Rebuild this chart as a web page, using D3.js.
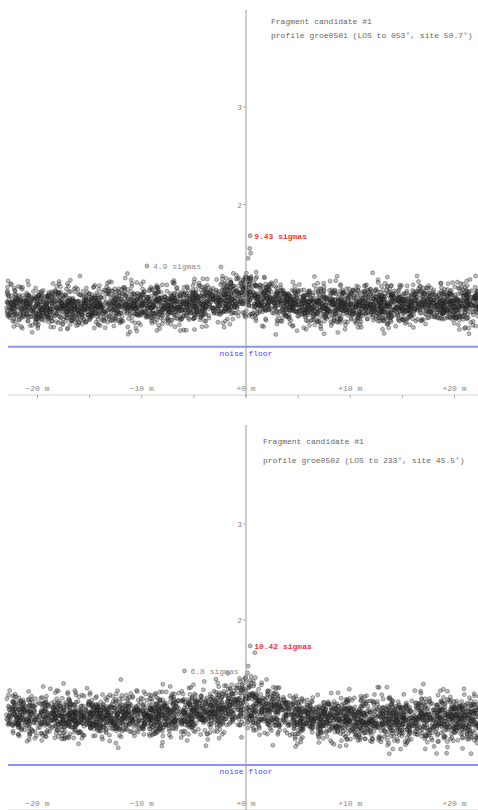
<!DOCTYPE html>
<html>
<head>
<meta charset="utf-8">
<script src="https://cdn.jsdelivr.net/npm/d3@7"></script>
<style>
html,body{margin:0;padding:0;background:#fff;}
svg{display:block;}
text{font-family:"Liberation Mono","DejaVu Sans Mono",monospace;}
</style>
</head>
<body>
<svg id="chart" width="478" height="810"></svg>
<script>
// ---------------- data ----------------
const xTicks = [-20, -10, 0, 10, 20];
const xTickLabels = ["\u221220 m", "\u221210 m", "+0 m", "+10 m", "+20 m"];
const xMinorTicks = [-20, -15, -10, -5, 0, 5, 10, 15, 20];
const yTicks = [2, 3];
const yTickLabels = ["2", "3"];

// band profile (offset in m -> mean signal and spread) estimated per panel
const profileOffsets   = [-23, -18, -13, -8, -5, -3, -1.5, 0, 1.5, 3, 5, 8, 13, 18, 23];
const topBandMean      = [0.95, 0.96, 0.96, 0.97, 0.98, 1.00, 1.04, 1.07, 1.03, 0.99, 0.98, 0.97, 0.97, 0.98, 0.97];
const topBandSpread    = [0.10, 0.10, 0.10, 0.10, 0.10, 0.10, 0.11, 0.12, 0.11, 0.10, 0.10, 0.10, 0.10, 0.10, 0.10];
const bottomBandMean   = [1.00, 1.00, 1.00, 1.01, 1.03, 1.06, 1.10, 1.13, 1.08, 1.03, 1.00, 0.98, 0.97, 0.97, 0.97];
const bottomBandSpread = [0.11, 0.11, 0.11, 0.11, 0.11, 0.115, 0.12, 0.13, 0.12, 0.115, 0.11, 0.11, 0.11, 0.11, 0.11];

// isolated high points
const topPeakX    = [0.4, 0.35, 0.45, -9.5, -2.4, 0.2];
const topPeakV    = [1.68, 1.55, 1.50, 1.37, 1.36, 1.45];
const bottomPeakX = [0.4, 0.85, -5.9, 0.2, 0.15, 0.9, -12.0, -4.0];
const bottomPeakV = [1.73, 1.66, 1.47, 1.52, 1.45, 1.40, 1.38, 1.36];

const noiseFloor = [0.54, 0.49];
const titles = [
  ["Fragment candidate #1", "profile groe0501 (LOS to 053\u00b0, site 50.7\u00b0)"],
  ["Fragment candidate #1", "profile groe0502 (LOS to 233\u00b0, site 45.5\u00b0)"]
];
const peakLabels = ["9.43 sigmas", "10.42 sigmas"];
const secondLabels = ["4.9 sigmas", "6.8 sigmas"];
const secondLabelAt = [[-9.5, 1.37], [-5.9, 1.47]];
const pointsPerPanel = 3400;

// ---------------- layout ----------------
const panels = [
  {axisTop: 10, y2: 204.5, y3: 107, xAxisY: 395, titleX: 271, titleY: [24, 38],
   mean: topBandMean, spread: topBandSpread, px: topPeakX, pv: topPeakV, shift: 0.0},
  {axisTop: 425, y2: 620, y3: 524, xAxisY: 810, titleX: 263, titleY: [444, 463],
   mean: bottomBandMean, spread: bottomBandSpread, px: bottomPeakX, pv: bottomPeakV, shift: 0.37}
];
const FS = 8;

const svg = d3.select("#chart");
const defs = svg.append("defs");
defs.append("filter").attr("id", "soft").attr("x", "-5%").attr("y", "-20%").attr("width", "110%").attr("height", "140%")
  .append("feGaussianBlur").attr("stdDeviation", 0.45);

const x = d3.scaleLinear().domain([-20, 20]).range([37.5, 454.5]);

function interp(arr, m) {
  const i = d3.bisectRight(profileOffsets, m);
  if (i <= 0) return arr[0];
  if (i >= profileOffsets.length) return arr[arr.length - 1];
  const t = (m - profileOffsets[i - 1]) / (profileOffsets[i] - profileOffsets[i - 1]);
  return arr[i - 1] + t * (arr[i] - arr[i - 1]);
}
// inverse normal CDF (Acklam)
function invNorm(p) {
  const a=[-39.6968302866538,220.946098424521,-275.928510446969,138.357751867269,-30.6647980661472,2.50662827745924];
  const b=[-54.4760987982241,161.585836858041,-155.698979859887,66.8013118877197,-13.2806815528857];
  const c=[-0.00778489400243029,-0.322396458041136,-2.40075827716184,-2.54973253934373,4.37466414146497,2.93816398269878];
  const d=[0.00778469570904146,0.32246712907004,2.445134137143,3.75440866190742];
  const pl=0.02425;
  if (p<pl){const q=Math.sqrt(-2*Math.log(p));return (((((c[0]*q+c[1])*q+c[2])*q+c[3])*q+c[4])*q+c[5])/((((d[0]*q+d[1])*q+d[2])*q+d[3])*q+1);}
  if (p>1-pl){const q=Math.sqrt(-2*Math.log(1-p));return -(((((c[0]*q+c[1])*q+c[2])*q+c[3])*q+c[4])*q+c[5])/((((d[0]*q+d[1])*q+d[2])*q+d[3])*q+1);}
  const q=p-0.5, r=q*q;
  return (((((a[0]*r+a[1])*r+a[2])*r+a[3])*r+a[4])*r+a[5])*q/(((((b[0]*r+b[1])*r+b[2])*r+b[3])*r+b[4])*r+1);
}
function frac(v){return v - Math.floor(v);}
// deterministic spread of points inside the read band
function scramble(i, s){ return frac(Math.sin(i * 12.9898 + s * 78.233) * 43758.5453); }

panels.forEach((P, pi) => {
  const g = svg.append("g");
  const y = d3.scaleLinear().domain([2, 3]).range([P.y2, P.y3]);

  // x axis line and ticks
  g.append("line").attr("x1", 8).attr("x2", 478).attr("y1", P.xAxisY).attr("y2", P.xAxisY)
    .attr("stroke", "#d4d4d4").attr("stroke-width", 1);
  g.selectAll(".mt").data(xMinorTicks).enter().append("line")
    .attr("x1", d => x(d)).attr("x2", d => x(d))
    .attr("y1", P.xAxisY).attr("y2", P.xAxisY + 3)
    .attr("stroke", "#aaa").attr("stroke-width", 1);
  g.selectAll(".xl").data(xTicks).enter().append("text")
    .attr("x", d => x(d)).attr("y", P.xAxisY - 4)
    .attr("text-anchor", "middle").attr("font-size", FS).attr("fill", "#888")
    .text((d, i) => xTickLabels[i]);

  // noise floor
  const nf = y(noiseFloor[pi]);
  g.append("line").attr("x1", 8).attr("x2", 478).attr("y1", nf).attr("y2", nf)
    .attr("stroke", "#8f8fff").attr("stroke-width", 2);
  g.append("text").attr("x", x(0)).attr("y", nf + 9).attr("text-anchor", "middle")
    .attr("font-size", FS).attr("fill", "#4a4aff").text("noise floor");

  // cloud of points
  const pts = [];
  for (let i = 0; i < pointsPerPanel; i++) {
    const u = scramble(i + 1, 1 + P.shift);
    const w = Math.min(0.9995, Math.max(0.0005, scramble(i + 1, 2.71 + P.shift)));
    const m = -23 + 46 * u;
    const v = interp(P.mean, m) + invNorm(w) * interp(P.spread, m);
    pts.push([m, v]);
  }
  P.px.forEach((m, i) => pts.push([m, P.pv[i]]));
  g.append("g").attr("filter", "url(#soft)")
    .selectAll(".pt").data(pts).enter().append("circle")
    .attr("cx", d => x(d[0])).attr("cy", d => y(d[1])).attr("r", 2.0)
    .attr("fill", "#444").attr("fill-opacity", 0.35)
    .attr("stroke", "#111").attr("stroke-opacity", 0.4).attr("stroke-width", 0.8);

  // vertical axis
  g.append("line").attr("x1", x(0)).attr("x2", x(0)).attr("y1", P.axisTop).attr("y2", P.xAxisY + 2)
    .attr("stroke", "#9a9a9a").attr("stroke-width", 1);
  g.selectAll(".yt").data(yTicks).enter().append("line")
    .attr("x1", x(0) - 3).attr("x2", x(0)).attr("y1", d => y(d)).attr("y2", d => y(d))
    .attr("stroke", "#aaa");
  g.selectAll(".yl").data(yTicks).enter().append("text")
    .attr("x", x(0) - 4).attr("y", d => y(d) + 3).attr("text-anchor", "end")
    .attr("font-size", FS).attr("fill", "#888").text((d, i) => yTickLabels[i]);

  // annotations
  g.append("text").attr("x", x(P.px[0]) + 4).attr("y", y(P.pv[0]) + 3)
    .attr("font-size", FS).attr("font-weight", "bold").attr("fill", "#ff3030").text(peakLabels[pi]);
  g.append("text").attr("x", x(secondLabelAt[pi][0]) + 6).attr("y", y(secondLabelAt[pi][1]) + 3)
    .attr("font-size", FS).attr("fill", "#888").text(secondLabels[pi]);

  // title
  titles[pi].forEach((t, i) => {
    g.append("text").attr("x", P.titleX).attr("y", P.titleY[i])
      .attr("font-size", FS).attr("fill", "#666").text(t);
  });
});
</script>
</body>
</html>
